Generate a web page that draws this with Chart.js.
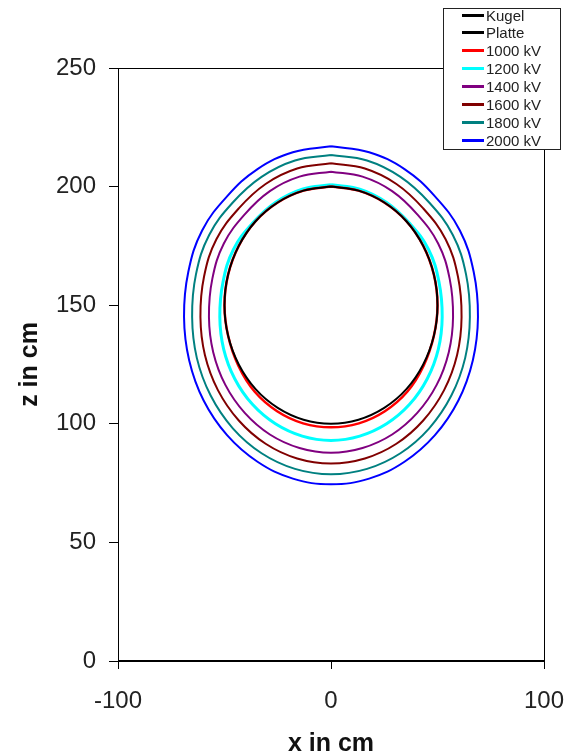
<!DOCTYPE html>
<html><head><meta charset="utf-8">
<script src="https://cdn.jsdelivr.net/npm/chart.js@4/dist/chart.umd.min.js"></script>
<style>
html,body{margin:0;padding:0;background:#fff;}
#wrap{position:relative;width:568px;height:754px;}
#legend{position:absolute;left:443px;top:8px;width:118px;height:142px;border:1px solid #222;background:#fff;font-family:"Liberation Sans",Arial,sans-serif;font-size:15px;color:#222;box-sizing:border-box;}
.item{position:absolute;left:18px;height:18px;display:flex;align-items:center;white-space:nowrap;}
.swatch{width:22px;height:3px;margin-right:2px;}
</style></head>
<body><div id="wrap"><canvas id="c" width="568" height="754"></canvas><div id="legend"></div></div>
<script>
const seriesNames = ['Kugel','Platte','1000 kV','1200 kV','1400 kV','1600 kV','1800 kV','2000 kV'];
const xTicks = [-100, 0, 100];
const zTicks = [0, 50, 100, 150, 200, 250];

const kugelX = [0,12.9,25,35.4,43.3,48.3,50,48.3,43.3,35.4,25,12.9,0,-12.9,-25,-35.4,-43.3,-48.3,-50,-48.3,-43.3,-35.4,-25,-12.9,0];
const kugelZ = [200,198.3,193.3,185.4,175,162.9,150,137.1,125,114.6,106.7,101.7,100,101.7,106.7,114.6,125,137.1,150,162.9,175,185.4,193.3,198.3,200];

const platteX = [-100, 100];
const platteZ = [0, 0];

const kv1000X = [0,12.9,25,35.4,43.3,48.3,50,48.3,43.5,35.8,25.3,13.1,0,-13.1,-25.3,-35.8,-43.5,-48.3,-50,-48.3,-43.3,-35.4,-25,-12.9,0];
const kv1000Z = [200,198.3,193.3,185.4,175,162.9,150,137.1,124.5,113.5,105.3,100.2,98.5,100.2,105.3,113.5,124.5,137.1,150,162.9,175,185.4,193.3,198.3,200];

const kv1200X = [0,13.5,26.1,36.9,45.8,50.7,52.2,50.4,45.2,36.9,26.1,13.5,0,-13.5,-26.1,-36.9,-45.2,-50.4,-52.2,-50.7,-45.8,-36.9,-26.1,-13.5,0];
const kv1200Z = [200.8,198.9,193.3,184.5,173.5,159.8,145,131.5,119,108.2,100,94.8,93,94.8,100,108.2,119,131.5,145,159.8,173.5,184.5,193.3,198.9,200.8];

const kv1400X = [0,14.8,28.7,40.5,50.3,55.7,57.3,55.3,49.6,40.5,28.7,14.8,0,-14.8,-28.7,-40.5,-49.6,-55.3,-57.3,-55.7,-50.3,-40.5,-28.7,-14.8,0];
const kv1400Z = [206.3,204.2,198.1,188.3,176,161.2,145,130.2,116.4,104.6,95.5,89.8,87.8,89.8,95.5,104.6,116.4,130.2,145,161.2,176,188.3,198.1,204.2,206.3];

const kv1600X = [0,15.9,30.7,43.3,53.8,59.6,61.3,59.2,53.1,43.3,30.7,15.9,0,-15.9,-30.7,-43.3,-53.1,-59.2,-61.3,-59.6,-53.8,-43.3,-30.7,-15.9,0];
const kv1600Z = [209.8,207.6,201.1,190.8,177.8,162.1,145,129,114.2,101.4,91.6,85.4,83.3,85.4,91.6,101.4,114.2,129,145,162.1,177.8,190.8,201.1,207.6,209.8];

const kv1800X = [0,16.9,32.6,46.1,57.2,63.4,65.2,63,56.5,46.1,32.6,16.9,0,-16.9,-32.6,-46.1,-56.5,-63,-65.2,-63.4,-57.2,-46.1,-32.6,-16.9,0];
const kv1800Z = [213.3,211,204.1,193.3,179.6,163,145,127.8,111.9,98.1,87.6,81,78.7,81,87.6,98.1,111.9,127.8,145,163,179.6,193.3,204.1,211,213.3];

const kv2000X = [0,17.9,34.5,48.8,60.5,67,69,66.6,59.8,48.8,34.5,17.9,0,-17.9,-34.5,-48.8,-59.8,-66.6,-69,-67,-60.5,-48.8,-34.5,-17.9,0];
const kv2000Z = [217,214.5,207.4,195.9,181.5,164,145,126.8,109.8,95.2,84,76.9,74.5,76.9,84,95.2,109.8,126.8,145,164,181.5,195.9,207.4,214.5,217];

const seriesX = [kugelX, platteX, kv1000X, kv1200X, kv1400X, kv1600X, kv1800X, kv2000X];
const seriesZ = [kugelZ, platteZ, kv1000Z, kv1200Z, kv1400Z, kv1600Z, kv1800Z, kv2000Z];
const seriesColors = ['#000000','#000000','#ff0000','#00ffff','#800080','#800000','#008080','#0000ff'];
const seriesWidths = [2, 2, 2.5, 3, 2, 2, 2, 2];

const FONT = '"Liberation Sans", Arial, sans-serif';

const datasets = seriesNames.map((name, i) => ({
  label: name,
  data: seriesX[i].map((x, j) => ({x: x, y: seriesZ[i][j]})),
  showLine: true,
  borderColor: seriesColors[i],
  backgroundColor: seriesColors[i],
  borderWidth: seriesWidths[i],
  pointRadius: 0,
  tension: 0.4,
  fill: false
}));

const framePlugin = {
  id: 'frame',
  afterDatasetsDraw(chart) {
    const a = chart.chartArea, ctx = chart.ctx;
    ctx.save();
    ctx.strokeStyle = '#000';
    ctx.lineWidth = 1;
    ctx.beginPath();
    ctx.moveTo(Math.round(a.left) + 0.5, Math.round(a.top) + 0.5);
    ctx.lineTo(Math.round(a.right) + 0.5, Math.round(a.top) + 0.5);
    ctx.lineTo(Math.round(a.right) + 0.5, Math.round(a.bottom) + 0.5);
    ctx.stroke();
    ctx.restore();
  }
};

const chart = new Chart(document.getElementById('c'), {
  type: 'scatter',
  data: { datasets: datasets },
  plugins: [framePlugin],
  options: {
    responsive: false,
    devicePixelRatio: 1,
    animation: false,
    layout: { padding: { top: 68, right: 24, left: 0, bottom: 0 } },
    plugins: { legend: { display: false }, tooltip: { enabled: false } },
    scales: {
      x: {
        type: 'linear', min: xTicks[0], max: xTicks[xTicks.length - 1],
        afterBuildTicks: s => { s.ticks = xTicks.map(v => ({value: v})); },
        ticks: { font: { size: 24, family: FONT }, color: '#222', padding: 18, maxRotation: 0 },
        grid: { display: true, drawOnChartArea: false, drawTicks: true, tickLength: 8, color: '#000', lineWidth: 1 },
        border: { display: true, color: '#000', width: 1 },
        title: { display: true, text: 'x in cm', color: '#111', font: { size: 25, weight: 'bold', family: FONT, lineHeight: 1 }, padding: { top: 0, bottom: -3 } },
        afterFit: s => { s.height = 93; s.paddingLeft = 0; s.paddingRight = 0; }
      },
      y: {
        type: 'linear', min: zTicks[0], max: zTicks[zTicks.length - 1],
        afterBuildTicks: s => { s.ticks = zTicks.map(v => ({value: v})); },
        ticks: { font: { size: 24, family: FONT }, color: '#222', padding: 13 },
        grid: { display: true, drawOnChartArea: false, drawTicks: true, tickLength: 9, color: '#000', lineWidth: 1 },
        border: { display: true, color: '#000', width: 1 },
        title: { display: true, text: 'z in cm', color: '#111', font: { size: 25, weight: 'bold', family: FONT, lineHeight: 1 }, padding: { top: 18, bottom: 0 } },
        afterFit: s => { s.width = 118; s.paddingTop = 0; s.paddingBottom = 0; }
      }
    }
  }
});

// HTML legend built from the chart's datasets
const legend = document.getElementById('legend');
chart.data.datasets.forEach((ds, i) => {
  const item = document.createElement('div');
  item.className = 'item';
  const center = 15 + 17.95 * i;
  item.style.top = (center - 9 - 8 - 1) + 'px';
  const sw = document.createElement('span');
  sw.className = 'swatch';
  sw.style.background = ds.borderColor;
  const t = document.createElement('span');
  t.textContent = ds.label;
  item.appendChild(sw);
  item.appendChild(t);
  legend.appendChild(item);
});
</script>
</body></html>
